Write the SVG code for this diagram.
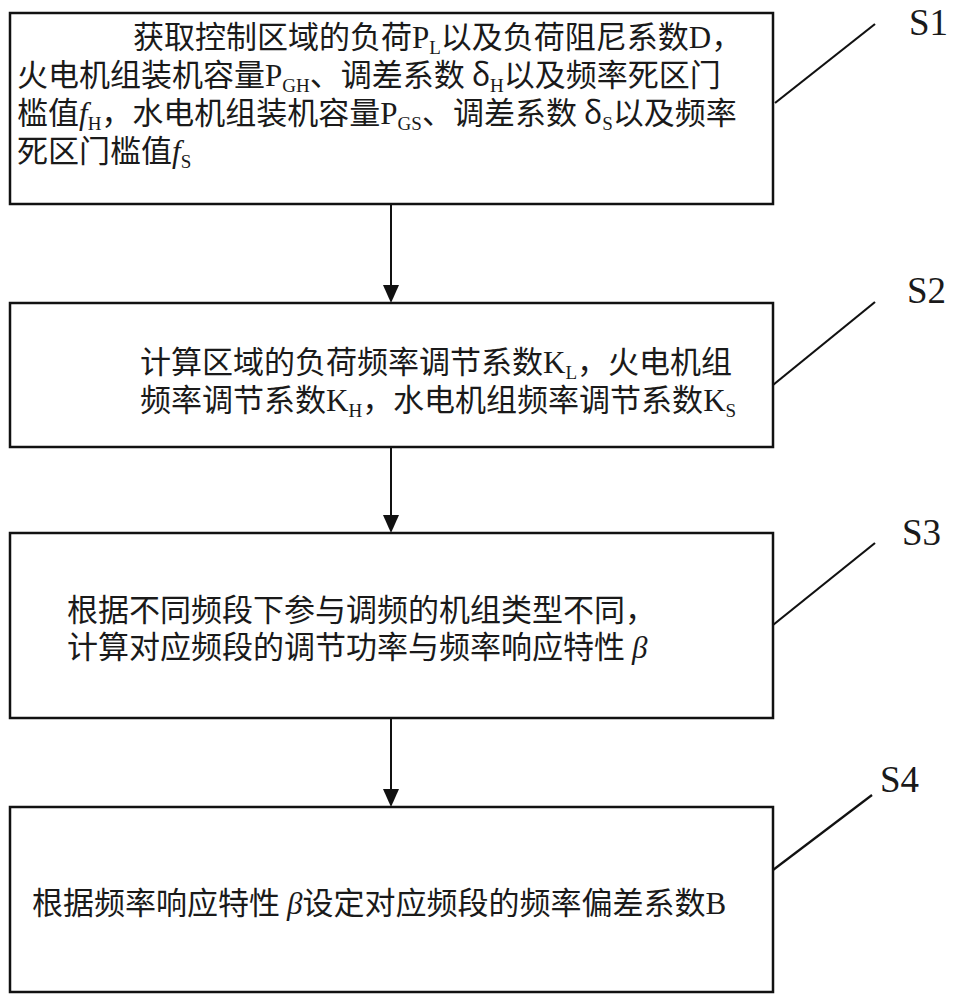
<svg xmlns="http://www.w3.org/2000/svg" width="955" height="1000" viewBox="0 0 955 1000">
  <style>
    .box { fill: #ffffff; stroke: #111111; stroke-width: 2.5; }
    .conn { stroke: #111111; stroke-width: 2; fill: none; }
    .lead { stroke: #111111; stroke-width: 2.2; fill: none; }
    .t { font-family: "Liberation Serif", "Noto Sans CJK SC", serif; font-size: 31px; fill: #1a1a1a; }
    .cjk { font-family: "Noto Sans CJK SC", sans-serif; }
    .sub { font-size: 19px; }
    .it { font-style: italic; }
    .lbl { font-family: "Liberation Serif", serif; font-size: 37px; fill: #1a1a1a; }
  </style>
  <defs>
    <marker id="arr" viewBox="0 0 16 18" refX="8" refY="18" markerWidth="16" markerHeight="18" markerUnits="userSpaceOnUse" orient="auto-start-reverse">
      <path d="M0,0 L16,0 L8,18 Z" fill="#111111"/>
    </marker>
  </defs>
  <rect width="955" height="1000" fill="#ffffff"/>

  <g id="connectors">
    <line class="conn" x1="391" y1="204" x2="391" y2="285"/>
    <path d="M383,285 L399,285 L391,303 Z" fill="#111111"/>
    <line class="conn" x1="391" y1="447" x2="391" y2="515"/>
    <path d="M383,515 L399,515 L391,533 Z" fill="#111111"/>
    <line class="conn" x1="391" y1="718" x2="391" y2="789"/>
    <path d="M383,789 L399,789 L391,807 Z" fill="#111111"/>
    <line class="lead" x1="775" y1="103" x2="875" y2="24"/>
    <line class="lead" x1="773" y1="385" x2="875" y2="302"/>
    <line class="lead" x1="773" y1="625" x2="875" y2="543"/>
    <line class="lead" x1="773" y1="870" x2="872" y2="795"/>
  </g>

  <g id="S1">
    <rect class="box" x="10" y="13" width="763" height="191"/>
    <text class="t" x="133" y="48"><tspan class="cjk">获取控制区域的负荷</tspan>P<tspan class="sub" dy="6">L</tspan><tspan class="cjk" dy="-6">以及负荷阻尼系数</tspan>D<tspan class="cjk">，</tspan></text>
    <text class="t" x="17" y="86"><tspan class="cjk">火电机组装机容量</tspan>P<tspan class="sub" dy="6">GH</tspan><tspan class="cjk" dy="-6">、调差系数 δ</tspan><tspan class="sub" dy="6">H</tspan><tspan class="cjk" dy="-6">以及频率死区门</tspan></text>
    <text class="t" x="17" y="124"><tspan class="cjk">槛值</tspan><tspan class="it">f</tspan><tspan class="sub" dy="6">H</tspan><tspan class="cjk" dy="-6">，水电机组装机容量</tspan>P<tspan class="sub" dy="6">GS</tspan><tspan class="cjk" dy="-6">、调差系数 δ</tspan><tspan class="sub" dy="6">S</tspan><tspan class="cjk" dy="-6">以及频率</tspan></text>
    <text class="t" x="17" y="162"><tspan class="cjk">死区门槛值</tspan><tspan class="it">f</tspan><tspan class="sub" dy="6">S</tspan></text>
    <text class="lbl" x="909" y="35">S1</text>
  </g>

  <g id="S2">
    <rect class="box" x="10" y="303" width="763" height="144"/>
    <text class="t" x="140" y="373"><tspan class="cjk">计算区域的负荷频率调节系数</tspan>K<tspan class="sub" dy="6">L</tspan><tspan class="cjk" dy="-6">，火电机组</tspan></text>
    <text class="t" x="140" y="411"><tspan class="cjk">频率调节系数</tspan>K<tspan class="sub" dy="6">H</tspan><tspan class="cjk" dy="-6">，水电机组频率调节系数</tspan>K<tspan class="sub" dy="6">S</tspan></text>
    <text class="lbl" x="907" y="303">S2</text>
  </g>

  <g id="S3">
    <rect class="box" x="10" y="533" width="763" height="185"/>
    <text class="t" x="67" y="621"><tspan class="cjk">根据不同频段下参与调频的机组类型不同，</tspan></text>
    <text class="t" x="67" y="658"><tspan class="cjk">计算对应频段的调节功率与频率响应特性 </tspan><tspan class="it">β</tspan></text>
    <text class="lbl" x="902" y="545">S3</text>
  </g>

  <g id="S4">
    <rect class="box" x="10" y="807" width="763" height="185"/>
    <text class="t" x="32" y="914"><tspan class="cjk">根据频率响应特性 </tspan><tspan class="it">β</tspan><tspan class="cjk">设定对应频段的频率偏差系数</tspan>B</text>
    <text class="lbl" x="880" y="792">S4</text>
  </g>
</svg>
